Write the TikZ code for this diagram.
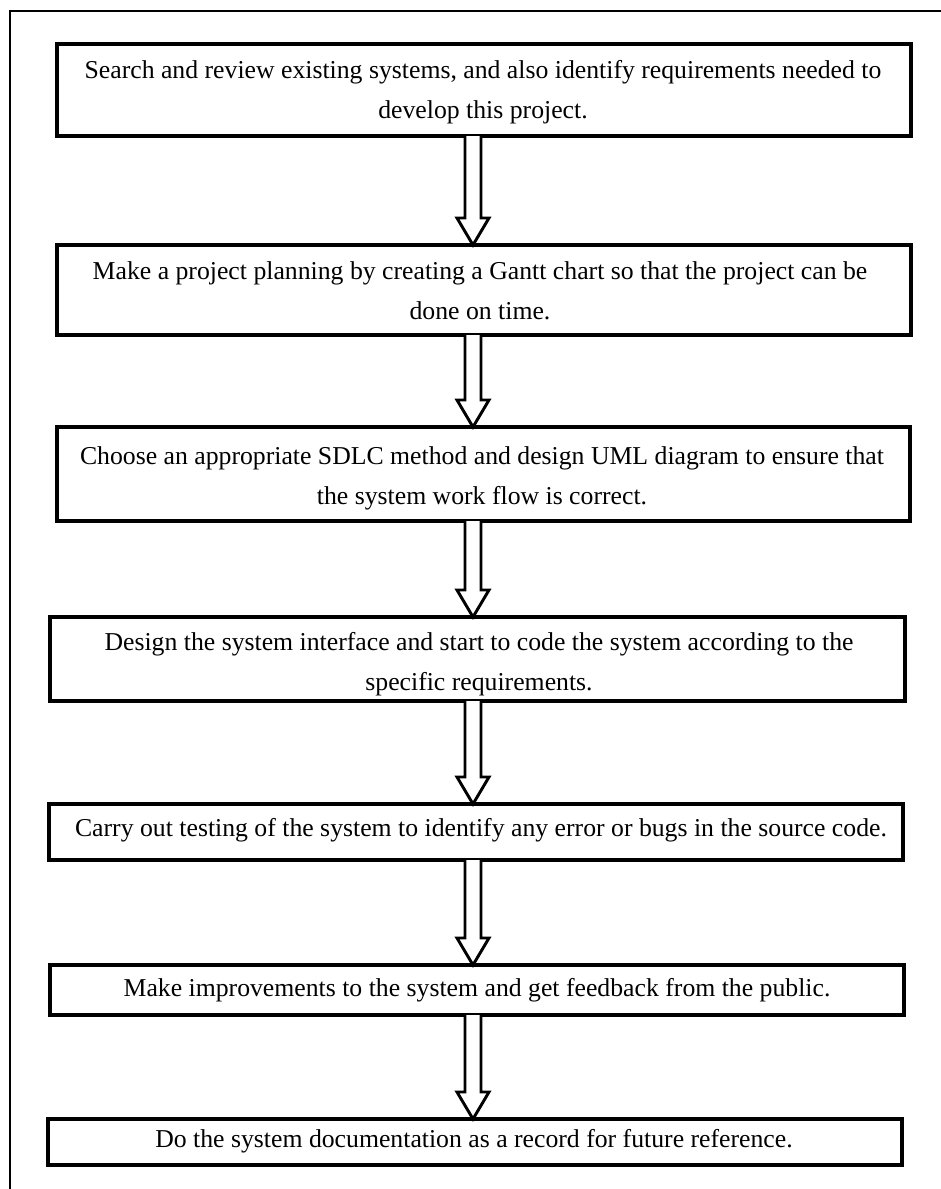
\documentclass[tikz,border=0pt]{standalone}
\usepackage{fontspec}
\setmainfont{Liberation Serif}
\usetikzlibrary{calc}
\tikzset{
  box/.style={draw=black, line width=3pt, inner sep=0pt, outer sep=0pt, fill=white},
  txt/.style={inner sep=0pt, align=center, font=\fontsize{19.3pt}{30pt}\selectfont, anchor=base},
  hollow/.style={draw=black, line width=2.2pt, line join=miter, fill=white},
  frameline/.style={draw=black, line width=1.5pt}
}
\newcommand\hollowarrow[2]{%
  \path (#1.south -| ax) coordinate (#1-s) (#2.north -| ax) coordinate (#2-n);
  \draw[hollow] ($(#1-s)+(-8,0)$) -- ($(#2-n)+(-8,-27)$) -- ($(#2-n)+(-16,-27)$) -- (#2-n)
     -- ($(#2-n)+(16,-27)$) -- ($(#2-n)+(8,-27)$) -- ($(#1-s)+(8,0)$);
}
\begin{document}
\begin{tikzpicture}[x=0.75pt, y=-0.75pt]
\useasboundingbox (0,0) rectangle (941,1189);
\fill[white] (0,0) rectangle (941,1189);
\draw[frameline] (9.5,1189) -- (9.5,10.5) -- (941,10.5);
\coordinate (ax) at (473,0);
% boxes
\node[box, minimum width=854*0.75pt, minimum height=92*0.75pt] (b1) at (484,90) {};
\node[box, minimum width=854*0.75pt, minimum height=90*0.75pt] (b2) at (484,290) {};
\node[box, minimum width=853*0.75pt, minimum height=94*0.75pt] (b3) at (483.5,474) {};
\node[box, minimum width=855*0.75pt, minimum height=84*0.75pt] (b4) at (477.5,659) {};
\node[box, minimum width=854*0.75pt, minimum height=56*0.75pt] (b5) at (476,832) {};
\node[box, minimum width=854*0.75pt, minimum height=50*0.75pt] (b6) at (477,990) {};
\node[box, minimum width=854*0.75pt, minimum height=46*0.75pt] (b7) at (475,1142) {};
% texts (anchor base = baseline of the last line)
\node[txt] (t1) at (483,118) {Search and review existing systems, and also identify requirements needed to\\develop this project.};
\node[txt] (t2) at (480,319) {Make a project planning by creating a Gantt chart so that the project can be\\done on time.};
\node[txt] (t3) at (482,504) {Choose an appropriate SDLC method and design UML diagram to ensure that\\the system work flow is correct.};
\node[txt] (t4) at (479,690) {Design the system interface and start to code the system according to the\\specific requirements.};
\node[txt] (t5) at (481,836) {Carry out testing of the system to identify any error or bugs in the source code.};
\node[txt] (t6) at (477,996) {Make improvements to the system and get feedback from the public.};
\node[txt] (t7) at (474,1147) {Do the system documentation as a record for future reference.};
% arrows
\hollowarrow{b1}{b2}
\hollowarrow{b2}{b3}
\hollowarrow{b3}{b4}
\hollowarrow{b4}{b5}
\hollowarrow{b5}{b6}
\hollowarrow{b6}{b7}
\end{tikzpicture}
\end{document}
